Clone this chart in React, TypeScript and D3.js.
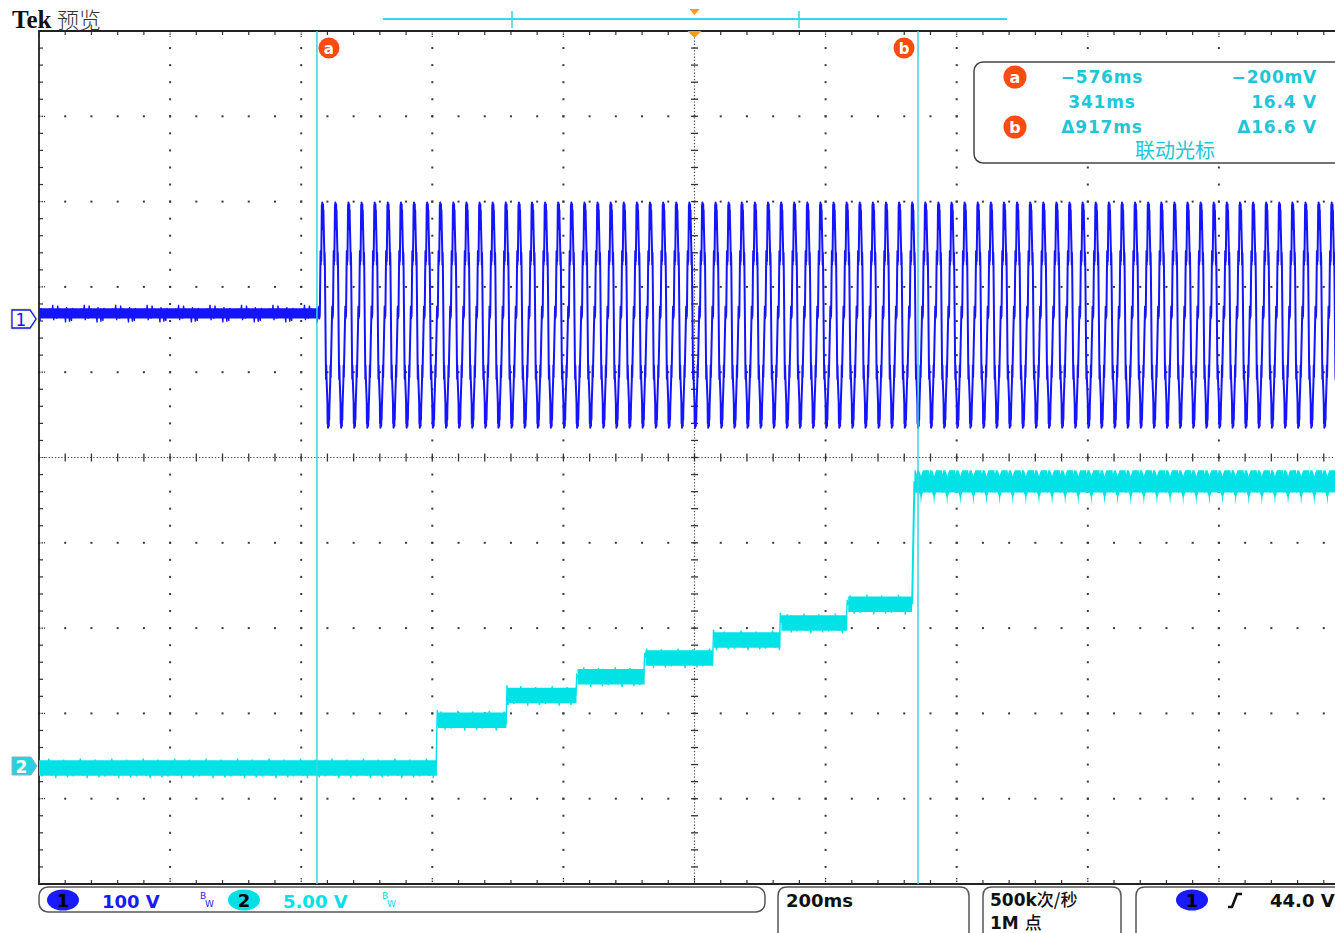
import * as d3 from 'd3';

const WIDTH = 1335;
const HEIGHT = 933;
const FONT = '"DejaVu Sans", sans-serif';
const CJK = '"Noto Sans CJK SC", sans-serif';

// graticule: 10 x 10 divisions, 5 minor ticks per division
const GRID = { left: 39, top: 31, right: 1350, bottom: 884 };
const DIVS_X = 10;
const DIVS_Y = 10;
const MINOR = 5;

// horizontal 200 ms/div, trigger at centre
const MS_PER_DIV = 200;

// vertical settings
const CH1_V_PER_DIV = 100;
const CH1_OFFSET_DIV = 1.62;
const CH2_V_PER_DIV = 5;
const CH2_OFFSET_DIV = -3.6;

// channel 1: idle level then a 50 Hz stepped wave
const CH1_IDLE_V = 7;
const CH1_START_MS = -573;
const CH1_PERIOD_MS = 20;
const CH1_CYCLE_MS = [0, 0.3, 0.6, 0.9, 1.2, 1.5, 2.3, 2.6, 2.9, 3.2, 3.5, 4.2, 4.5, 4.8, 5.1, 5.4, 5.7, 6.0, 6.3, 6.6, 6.9, 7.2, 8.2, 8.5, 8.8, 9.1, 10.6, 10.9, 11.2, 11.5, 13.0, 13.3, 13.6, 13.9, 14.2, 14.5, 14.8, 15.1, 15.4, 15.7, 16.0, 17.4, 17.7, 18.0, 18.3];
const CH1_CYCLE_V = [4, 15, 1, 13, 3, 11, 66, 80, 64, 78, 68, 110, 134, 108, 137, 112, 131, 106, 135, 110, 128, 114, 80, 64, 78, 66, -52, -70, -54, -66, -98, -122, -100, -127, -102, -120, -99, -125, -101, -118, -104, -70, -54, -68, -56];

// channel 2: staircase (start ms, level V)
const CH2_STEP_MS = [-1000, -393, -287, -180, -76, 28, 131, 233];
const CH2_STEP_V = [-0.2, 2.6, 4.05, 5.15, 6.25, 7.3, 8.3, 9.4];
const CH2_RISE_MS = [332, 333.5, 335.5];
const CH2_RISE_V = [9.4, 12.5, 16.6];
const CH2_HIGH_V = 16.5;
// ripple on the top level, one 20 ms cycle, volts around the level
const CH2_RIPPLE_MS = [0, 2, 3, 4, 7, 9, 10, 11, 13, 20];
const CH2_RIPPLE_HI = [0.75, 0.75, 0.5, 0.75, 0.75, 0.55, 0.4, 0.55, 0.75, 0.75];
const CH2_RIPPLE_LO = [-0.55, -0.55, -0.6, -0.55, -0.55, -0.8, -1.3, -0.8, -0.55, -0.55];

// trace noise in divisions, one value every 1.5 ms
const NOISE_STEP_MS = 1.5;
const NOISE_DIV = [0, 0.06, 0, -0.1, 0, 0, 0.07, 0, -0.06, 0, 0.11, 0, 0, -0.09, 0, 0.05, 0, -0.12, 0, 0, 0.08, 0, -0.07, 0, 0, 0.1, 0, -0.05, 0, -0.11, 0, 0.06];
const CH1_BAND_DIV = 0.12;
const CH2_BAND_DIV = 0.18;

// cursors + readouts
const CURSOR_MS = [-576, 341];
const CURSOR_NAMES = ['a', 'b'];
const READ_TIME = ['\u2212576ms', '341ms', '\u0394917ms'];
const READ_VOLT = ['\u2212200mV', '16.4 V', '\u039416.6 V'];

const CH1_COLOR = '#1414ff';
const CH2_COLOR = '#00e2e6';
const CURSOR_COLOR = '#3fd2e2';
const TEXT_CYAN = '#1ec6d8';
const ORANGE = '#ff4a12';

type Pt = [number, number];

export default function App() {
  const x = d3
    .scaleLinear()
    .domain([(-DIVS_X / 2) * MS_PER_DIV, (DIVS_X / 2) * MS_PER_DIV])
    .range([GRID.left, GRID.right]);
  const y1 = d3
    .scaleLinear()
    .domain([(-DIVS_Y / 2 - CH1_OFFSET_DIV) * CH1_V_PER_DIV, (DIVS_Y / 2 - CH1_OFFSET_DIV) * CH1_V_PER_DIV])
    .range([GRID.bottom, GRID.top]);
  const y2 = d3
    .scaleLinear()
    .domain([(-DIVS_Y / 2 - CH2_OFFSET_DIV) * CH2_V_PER_DIV, (DIVS_Y / 2 - CH2_OFFSET_DIV) * CH2_V_PER_DIV])
    .range([GRID.bottom, GRID.top]);
  const tMin = x.domain()[0];
  const tMax = x.domain()[1];

  // --- channel 1
  const ch1Noise: Pt[] = [];
  for (let t = tMin, k = 0; t <= CH1_START_MS; t += NOISE_STEP_MS, k++) {
    ch1Noise.push([t, CH1_IDLE_V + NOISE_DIV[(k * 3) % NOISE_DIV.length] * 0.9 * CH1_V_PER_DIV]);
  }
  const ch1Wave: Pt[] = [];
  for (let c = CH1_START_MS; c < tMax; c += CH1_PERIOD_MS) {
    CH1_CYCLE_MS.forEach((p, i) => ch1Wave.push([c + p, CH1_CYCLE_V[i]]));
  }
  const line1 = d3.line<Pt>().x((d) => x(d[0])).y((d) => y1(d[1]));
  const halfBand1 = (CH1_BAND_DIV / 2) * CH1_V_PER_DIV;
  const idleBand = d3
    .area<Pt>()
    .x((d) => x(d[0]))
    .y0((d) => y1(d[1] - halfBand1))
    .y1((d) => y1(d[1] + halfBand1))([
    [tMin, CH1_IDLE_V],
    [CH1_START_MS, CH1_IDLE_V],
  ]);

  // --- channel 2
  const line2 = d3.line<Pt>().x((d) => x(d[0])).y((d) => y2(d[1]));
  const halfBand2 = (CH2_BAND_DIV / 2) * CH2_V_PER_DIV;
  const band2 = d3
    .area<Pt>()
    .x((d) => x(d[0]))
    .y0((d) => y2(d[1] - halfBand2))
    .y1((d) => y2(d[1] + halfBand2));
  const stepBands = CH2_STEP_MS.map((t, i) => {
    const end = i + 1 < CH2_STEP_MS.length ? CH2_STEP_MS[i + 1] : CH2_RISE_MS[0];
    return band2([
      [t + (i === 0 ? 0 : 1.5), CH2_STEP_V[i]],
      [end, CH2_STEP_V[i]],
    ]);
  });
  const levelAt = (t: number) => {
    let idx = 0;
    CH2_STEP_MS.forEach((s, i) => {
      if (t >= s) idx = i;
    });
    return idx;
  };
  const ch2Noise: Pt[] = [];
  let lastIdx = 0;
  for (let t = tMin, k = 0; t <= CH2_RISE_MS[0]; t += NOISE_STEP_MS, k++) {
    const idx = levelAt(t);
    const over = idx !== lastIdx ? 0.6 : 0;
    lastIdx = idx;
    ch2Noise.push([t, CH2_STEP_V[idx] + over + NOISE_DIV[k % NOISE_DIV.length] * CH2_V_PER_DIV]);
  }
  const rise: Pt[] = CH2_RISE_MS.map((t, i) => [t, CH2_RISE_V[i]]);
  type RP = { t: number; hi: number; lo: number };
  const ripple: RP[] = [];
  for (let c = CH2_RISE_MS[CH2_RISE_MS.length - 1]; c < tMax; c += CH1_PERIOD_MS) {
    CH2_RIPPLE_MS.forEach((p, i) =>
      ripple.push({ t: c + p, hi: CH2_HIGH_V + CH2_RIPPLE_HI[i], lo: CH2_HIGH_V + CH2_RIPPLE_LO[i] })
    );
  }
  const rippleArea = d3
    .area<RP>()
    .x((d) => x(d.t))
    .y0((d) => y2(d.lo))
    .y1((d) => y2(d.hi))(ripple);

  // --- graticule
  const minorX = d3.range(0, DIVS_X * MINOR + 1).map((i) => GRID.left + ((GRID.right - GRID.left) * i) / (DIVS_X * MINOR));
  const minorY = d3.range(0, DIVS_Y * MINOR + 1).map((i) => GRID.top + ((GRID.bottom - GRID.top) * i) / (DIVS_Y * MINOR));
  const majorX = minorX.filter((_, i) => i % MINOR === 0);
  const majorY = minorY.filter((_, i) => i % MINOR === 0);
  const cx = majorX[DIVS_X / 2];
  const cy = majorY[DIVS_Y / 2];

  const dots: JSX.Element[] = [];
  majorX.forEach((gx, i) => {
    if (i === 0 || i === DIVS_X / 2 || i === DIVS_X) return;
    minorY.forEach((gy, j) => dots.push(<rect key={`v${i}-${j}`} x={gx - 1} y={gy - 1} width={2} height={2} fill='#3a3a3a' />));
  });
  majorY.forEach((gy, j) => {
    if (j === 0 || j === DIVS_Y / 2 || j === DIVS_Y) return;
    minorX.forEach((gx, i) => dots.push(<rect key={`h${i}-${j}`} x={gx - 1} y={gy - 1} width={2} height={2} fill='#3a3a3a' />));
  });

  const pill = (px: number, py: number, fill: string, label: string, key: string) => (
    <g key={key}>
      <ellipse cx={px} cy={py} rx={16} ry={10.5} fill={fill} />
      <text x={px} y={py + 6.5} textAnchor='middle' fontSize={18} fontWeight='bold' fill='#000' fontFamily={FONT}>
        {label}
      </text>
    </g>
  );

  const openBox = (x0: number, x1: number) =>
    `M${x0},945 V896 Q${x0},887 ${x0 + 9},887 H${x1 - 9} Q${x1},887 ${x1},896 V945`;

  return (
    <svg
      width={WIDTH}
      height={HEIGHT}
      style={{ position: 'absolute', left: 0, top: 0, display: 'block', background: '#fff' }}
      fontFamily={FONT}
    >
      <defs>
        <clipPath id='plot'>
          <rect x={GRID.left} y={GRID.top} width={GRID.right - GRID.left} height={GRID.bottom - GRID.top} />
        </clipPath>
      </defs>
      <rect width={WIDTH} height={HEIGHT} fill='#fff' />

      {/* title */}
      <text x={12} y={28} fontFamily='"Liberation Serif", serif' fontWeight='bold' fontSize={25} fill='#111'>
        Tek
      </text>
      <text x={57} y={28} fontFamily={CJK} fontWeight={300} fontSize={22} fill='#333'>
        预览
      </text>

      {/* record overview */}
      <line x1={383} x2={1007} y1={19} y2={19} stroke={CURSOR_COLOR} strokeWidth={2} />
      <line x1={512} x2={512} y1={11} y2={28} stroke={CURSOR_COLOR} strokeWidth={1.5} />
      <line x1={799} x2={799} y1={11} y2={28} stroke={CURSOR_COLOR} strokeWidth={1.5} />
      <path d={`M${cx - 5},9 H${cx + 5} L${cx},15 Z`} fill='#ff9a1a' />

      {/* graticule */}
      <g>{dots}</g>
      <line x1={cx} x2={cx} y1={GRID.top} y2={GRID.bottom} stroke='#444' strokeWidth={1.2} strokeDasharray='1.2 2' />
      <line x1={GRID.left} x2={GRID.right} y1={cy} y2={cy} stroke='#444' strokeWidth={1.2} strokeDasharray='1.2 2' />
      {minorY.map((gy, j) => (
        <line key={`cy${j}`} x1={cx - 3.5} x2={cx + 3.5} y1={gy} y2={gy} stroke='#333' strokeWidth={1.3} />
      ))}
      {minorX.map((gx, i) => (
        <line key={`cx${i}`} x1={gx} x2={gx} y1={cy - 4} y2={cy + 4} stroke='#333' strokeWidth={1.3} />
      ))}
      {minorX.map((gx, i) => (
        <g key={`tb${i}`}>
          <line x1={gx} x2={gx} y1={GRID.top} y2={GRID.top + (i % MINOR === 0 ? 6 : 4)} stroke='#333' strokeWidth={1.2} strokeDasharray={i % MINOR === 0 ? '1.5 1' : undefined} />
          <line x1={gx} x2={gx} y1={GRID.bottom - (i % MINOR === 0 ? 6 : 4)} y2={GRID.bottom} stroke='#333' strokeWidth={1.2} strokeDasharray={i % MINOR === 0 ? '1.5 1' : undefined} />
        </g>
      ))}
      {minorY.map((gy, j) => (
        <line key={`lt${j}`} x1={GRID.left} x2={GRID.left + (j % MINOR === 0 ? 6 : 4)} y1={gy} y2={gy} stroke='#333' strokeWidth={1.2} strokeDasharray={j % MINOR === 0 ? '1.5 1' : undefined} />
      ))}
      <path d={`M${WIDTH + 10},${GRID.top} H${GRID.left} V${GRID.bottom} H${WIDTH + 10}`} fill='none' stroke='#222' strokeWidth={1.8} />

      {/* traces */}
      <g clipPath='url(#plot)'>
        <path d={idleBand ?? ''} fill={CH1_COLOR} />
        <path d={line1(ch1Noise) ?? ''} fill='none' stroke={CH1_COLOR} strokeWidth={1.3} />
        <path d={line1(ch1Wave) ?? ''} fill='none' stroke={CH1_COLOR} strokeWidth={2} strokeLinejoin='round' />

        {stepBands.map((d, i) => (
          <path key={`sb${i}`} d={d ?? ''} fill={CH2_COLOR} />
        ))}
        <path d={line2(ch2Noise) ?? ''} fill='none' stroke={CH2_COLOR} strokeWidth={1.4} />
        <path d={line2(rise) ?? ''} fill='none' stroke={CH2_COLOR} strokeWidth={2} />
        <path d={rippleArea ?? ''} fill={CH2_COLOR} />
      </g>

      {/* cursors */}
      {CURSOR_MS.map((t, i) => (
        <g key={`cur${i}`}>
          <line x1={x(t)} x2={x(t)} y1={GRID.top} y2={GRID.bottom} stroke={CURSOR_COLOR} strokeWidth={1.5} />
          <circle cx={x(t) + (i === 0 ? 12 : -14)} cy={48} r={10.5} fill={ORANGE} />
          <text x={x(t) + (i === 0 ? 12 : -14)} y={53.5} textAnchor='middle' fontSize={15} fontWeight='bold' fill='#fff'>
            {CURSOR_NAMES[i]}
          </text>
        </g>
      ))}
      <path d={`M${cx - 7},${GRID.top} H${cx + 7} L${cx},${GRID.top + 7} Z`} fill='#ff9a1a' />

      {/* channel markers */}
      <path d='M12,310 H30 L36,319 L30,328 H12 Z' fill='#fff' stroke='#e4dc9a' strokeWidth={3} />
      <path d='M12,310 H30 L36,319 L30,328 H12 Z' fill='#fff' stroke={CH1_COLOR} strokeWidth={1.3} />
      <text x={21} y={325.5} textAnchor='middle' fontSize={17} fill={CH1_COLOR}>
        1
      </text>
      <path d='M12,757 H31 L37,766 L31,775 H12 Z' fill='#22d4e2' stroke='#9ab' strokeWidth={1} />
      <text x={21.5} y={772.5} textAnchor='middle' fontSize={17} fontWeight='bold' fill='#fff'>
        2
      </text>

      {/* cursor readout */}
      <rect x={974} y={62} width={420} height={101} rx={9} fill='#fff' stroke='#444' strokeWidth={1.5} />
      {[0, 2].map((r) => (
        <g key={`rc${r}`}>
          <circle cx={1015} cy={77 + r * 25} r={11.5} fill={ORANGE} />
          <text x={1015} y={82.5 + r * 25} textAnchor='middle' fontSize={16} fontWeight='bold' fill='#fff'>
            {CURSOR_NAMES[r / 2]}
          </text>
        </g>
      ))}
      {READ_TIME.map((s, r) => (
        <text key={`rt${r}`} x={1102} y={83 + r * 25} textAnchor='middle' fontSize={17} fontWeight='bold' letterSpacing={0.8} fill={TEXT_CYAN}>
          {s}
        </text>
      ))}
      {READ_VOLT.map((s, r) => (
        <text key={`rv${r}`} x={1317} y={83 + r * 25} textAnchor='end' fontSize={17} fontWeight='bold' letterSpacing={0.8} fill={TEXT_CYAN}>
          {s}
        </text>
      ))}
      <text x={1175} y={158} textAnchor='middle' fontFamily={CJK} fontSize={20} fill={TEXT_CYAN}>
        联动光标
      </text>

      {/* status bar */}
      <rect x={39} y={887} width={726} height={25} rx={9} fill='none' stroke='#555' strokeWidth={1.5} />
      {pill(63, 900, '#1a1aff', '1', 'p1')}
      <text x={102} y={908} fontSize={18} fontWeight='bold' fill='#1a1aff'>
        100 V
      </text>
      <text x={200} y={899} fontSize={9} fill='#1a1aff'>B</text>
      <text x={205} y={907} fontSize={9} fill='#1a1aff'>W</text>
      {pill(244, 900, '#00e0e4', '2', 'p2')}
      <text x={283} y={908} fontSize={18} fontWeight='bold' fill={CH2_COLOR}>
        5.00 V
      </text>
      <text x={382} y={899} fontSize={9} fill={CH2_COLOR}>B</text>
      <text x={387} y={907} fontSize={9} fill={CH2_COLOR}>W</text>

      <path d={openBox(778, 969)} fill='none' stroke='#555' strokeWidth={1.5} />
      <text x={786} y={907} fontSize={18} fontWeight='bold' fill='#111'>
        200ms
      </text>
      <path d={openBox(983, 1121)} fill='none' stroke='#555' strokeWidth={1.5} />
      <text x={990} y={906} fontSize={17} fontWeight='bold' fill='#111'>
        500k<tspan fontFamily={CJK} fontWeight={500}>次/秒</tspan>
      </text>
      <text x={990} y={929} fontSize={17} fontWeight='bold' fill='#111'>
        1M <tspan fontFamily={CJK} fontWeight={500}>点</tspan>
      </text>
      <path d={openBox(1136, 1360)} fill='none' stroke='#555' strokeWidth={1.5} />
      {pill(1192, 900, '#1a1aff', '1', 'p3')}
      <path d='M1228,907 H1232 L1237,894 H1242' fill='none' stroke='#111' strokeWidth={2.6} />
      <text x={1270} y={907} fontSize={18} fontWeight='bold' fill='#111'>
        44.0 V
      </text>
    </svg>
  );
}
